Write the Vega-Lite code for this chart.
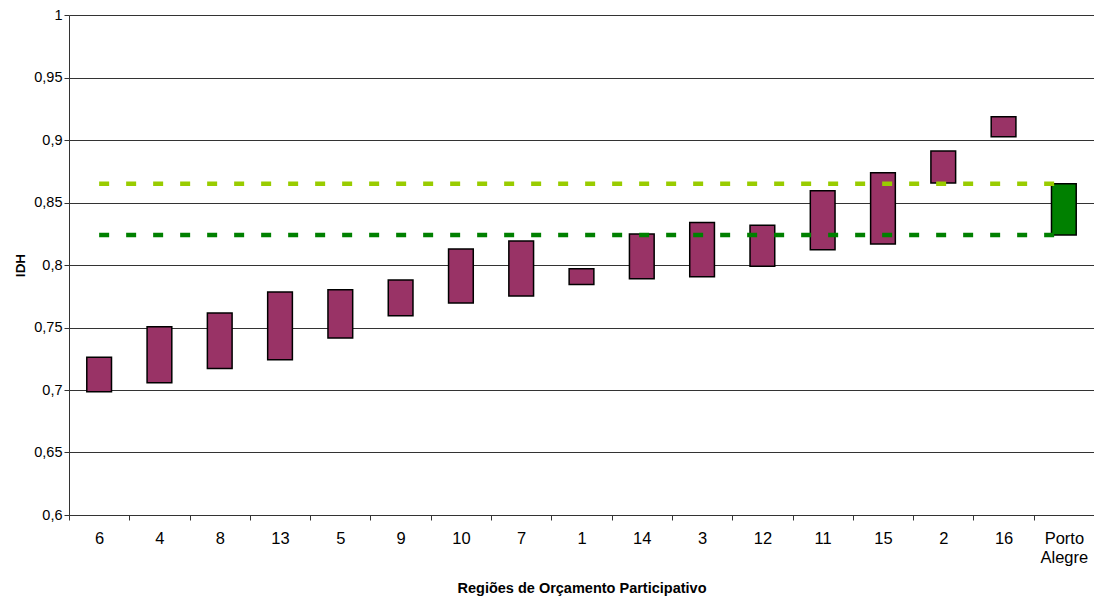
{
  "$schema": "https://vega.github.io/schema/vega-lite/v6.json",
  "width": 1025,
  "height": 500,
  "autosize": {"type": "none"},
  "padding": {"left": 69, "top": 15, "right": 0, "bottom": 81},
  "background": "white",
  "config": {
    "view": {"stroke": null},
    "font": "Liberation Sans"
  },
  "data": {
    "values": [
      {"regiao": "6", "idh_min": 0.6986, "idh_max": 0.7262, "tipo": "Região", "poa_1991": 0.824, "poa_2000": 0.865},
      {"regiao": "4", "idh_min": 0.7058, "idh_max": 0.7506, "tipo": "Região", "poa_1991": 0.824, "poa_2000": 0.865},
      {"regiao": "8", "idh_min": 0.7173, "idh_max": 0.7616, "tipo": "Região", "poa_1991": 0.824, "poa_2000": 0.865},
      {"regiao": "13", "idh_min": 0.7243, "idh_max": 0.7784, "tipo": "Região", "poa_1991": 0.824, "poa_2000": 0.865},
      {"regiao": "5", "idh_min": 0.7416, "idh_max": 0.7803, "tipo": "Região", "poa_1991": 0.824, "poa_2000": 0.865},
      {"regiao": "9", "idh_min": 0.7594, "idh_max": 0.788, "tipo": "Região", "poa_1991": 0.824, "poa_2000": 0.865},
      {"regiao": "10", "idh_min": 0.7696, "idh_max": 0.8128, "tipo": "Região", "poa_1991": 0.824, "poa_2000": 0.865},
      {"regiao": "7", "idh_min": 0.7752, "idh_max": 0.8192, "tipo": "Região", "poa_1991": 0.824, "poa_2000": 0.865},
      {"regiao": "1", "idh_min": 0.7845, "idh_max": 0.797, "tipo": "Região", "poa_1991": 0.824, "poa_2000": 0.865},
      {"regiao": "14", "idh_min": 0.789, "idh_max": 0.8248, "tipo": "Região", "poa_1991": 0.824, "poa_2000": 0.865},
      {"regiao": "3", "idh_min": 0.7907, "idh_max": 0.8341, "tipo": "Região", "poa_1991": 0.824, "poa_2000": 0.865},
      {"regiao": "12", "idh_min": 0.799, "idh_max": 0.8318, "tipo": "Região", "poa_1991": 0.824, "poa_2000": 0.865},
      {"regiao": "11", "idh_min": 0.8123, "idh_max": 0.8594, "tipo": "Região", "poa_1991": 0.824, "poa_2000": 0.865},
      {"regiao": "15", "idh_min": 0.8168, "idh_max": 0.8739, "tipo": "Região", "poa_1991": 0.824, "poa_2000": 0.865},
      {"regiao": "2", "idh_min": 0.8656, "idh_max": 0.8912, "tipo": "Região", "poa_1991": 0.824, "poa_2000": 0.865},
      {"regiao": "16", "idh_min": 0.9026, "idh_max": 0.9186, "tipo": "Região", "poa_1991": 0.824, "poa_2000": 0.865},
      {"regiao": "Porto Alegre", "idh_min": 0.824, "idh_max": 0.865, "tipo": "Município", "poa_1991": 0.824, "poa_2000": 0.865}
    ]
  },
  "encoding": {
    "x": {
      "field": "regiao",
      "type": "nominal",
      "sort": null,
      "scale": {"paddingInner": 0, "paddingOuter": 0},
      "axis": {
        "title": "Regiões de Orçamento Participativo",
        "titleFont": "Liberation Sans",
        "titleFontSize": 14.5,
        "titleFontWeight": "bold",
        "titleColor": "#000",
        "titleY": 66,
        "titleBaseline": "top",
        "labelAngle": 0,
        "labelFont": "Liberation Sans",
        "labelFontSize": 16.5,
        "labelColor": "#000",
        "labelPadding": 10,
        "labelLineHeight": 19,
        "labelBaseline": "top",
        "labelExpr": "datum.label == 'Porto Alegre' ? ['Porto', 'Alegre'] : datum.label",
        "tickBand": "extent",
        "tickSize": 5,
        "tickColor": "#333",
        "domainColor": "#333",
        "grid": false
      }
    }
  },
  "layer": [
    {
      "mark": {"type": "bar", "width": {"band": 0.41}, "stroke": "#000", "strokeWidth": 1.5},
      "encoding": {
        "y": {
          "field": "idh_min",
          "type": "quantitative",
          "scale": {"domain": [0.6, 1], "nice": false, "zero": false},
          "axis": {
            "title": "IDH",
            "titleFont": "Liberation Sans",
            "titleFontSize": 13.5,
            "titleFontWeight": "bold",
            "titleColor": "#000",
            "titlePadding": 6,
            "values": [0.6, 0.65, 0.7, 0.75, 0.8, 0.85, 0.9, 0.95, 1],
            "labelExpr": "replace(format(datum.value, '.2~f'), '.', ',')",
            "labelFont": "Liberation Sans",
            "labelFontSize": 14.5,
            "labelColor": "#000",
            "labelPadding": 2,
            "tickSize": 5,
            "tickColor": "#333",
            "domainColor": "#333",
            "grid": true,
            "gridColor": "#333",
            "gridWidth": 1
          }
        },
        "y2": {"field": "idh_max"},
        "color": {
          "field": "tipo",
          "type": "nominal",
          "scale": {"domain": ["Região", "Município"], "range": ["#993366", "#008000"]},
          "legend": null
        }
      }
    },
    {
      "mark": {"type": "line", "color": "#99CC00", "strokeWidth": 4.5, "strokeDash": [10, 17]},
      "encoding": {
        "y": {"field": "poa_2000", "type": "quantitative"}
      }
    },
    {
      "mark": {"type": "line", "color": "#008000", "strokeWidth": 4.5, "strokeDash": [10, 17]},
      "encoding": {
        "y": {"field": "poa_1991", "type": "quantitative"}
      }
    }
  ]
}
